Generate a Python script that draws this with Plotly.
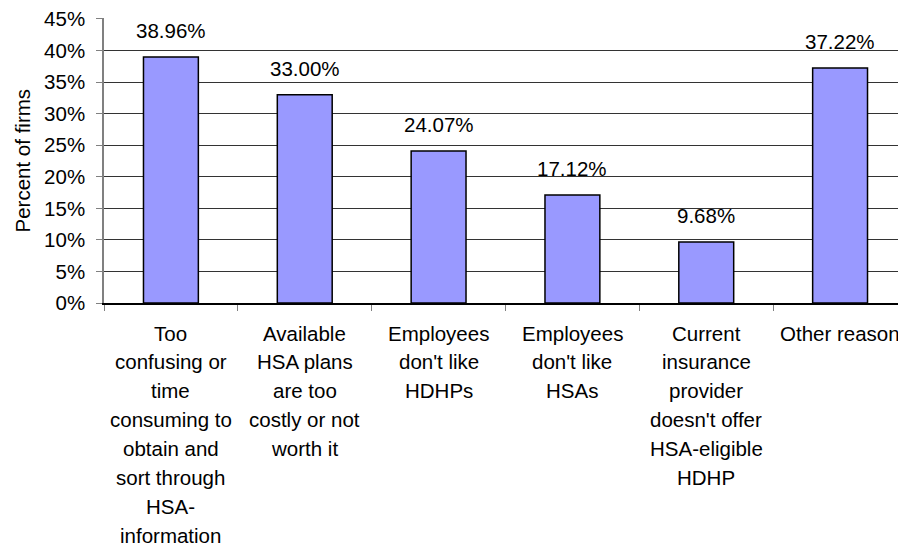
import plotly.graph_objects as go

categories = [
    "Too confusing or time consuming to obtain and sort through HSA-information",
    "Available HSA plans are too costly or not worth it",
    "Employees don't like HDHPs",
    "Employees don't like HSAs",
    "Current insurance provider doesn't offer HSA-eligible HDHP",
    "Other reason",
]
tick_label_lines = [
    ["Too", "confusing or", "time", "consuming to", "obtain and", "sort through", "HSA-", "information"],
    ["Available", "HSA plans", "are too", "costly or not", "worth it"],
    ["Employees", "don't like", "HDHPs"],
    ["Employees", "don't like", "HSAs"],
    ["Current", "insurance", "provider", "doesn't offer", "HSA-eligible", "HDHP"],
    ["Other reason"],
]
values = [0.3896, 0.3300, 0.2407, 0.1712, 0.0968, 0.3722]
value_labels = ["38.96%", "33.00%", "24.07%", "17.12%", "9.68%", "37.22%"]
y_tick_values = [0.0, 0.05, 0.10, 0.15, 0.20, 0.25, 0.30, 0.35, 0.40, 0.45]
y_tick_labels = ["0%", "5%", "10%", "15%", "20%", "25%", "30%", "35%", "40%", "45%"]

FONT = "Arial, Liberation Sans, sans-serif"
FS = 20.5

fig = go.Figure()
fig.add_trace(go.Bar(
    x=categories, y=values,
    marker=dict(color="#9999FF", line=dict(color="black", width=1.5)),
    width=0.41,
    hoverinfo="skip",
))

annotations = []
for cat, v, lab in zip(categories, values, value_labels):
    annotations.append(dict(
        x=cat, y=v, xref="x", yref="y", text=lab, showarrow=False,
        yanchor="bottom", yshift=13, font=dict(family=FONT, size=FS, color="black"),
    ))
for cat, lines in zip(categories, tick_label_lines):
    for i, line in enumerate(lines):
        annotations.append(dict(
            x=cat, y=0, xref="x", yref="paper", text=line, showarrow=False,
            yanchor="middle", yshift=-(30 + 28.9 * i),
            font=dict(family=FONT, size=FS, color="black"),
        ))
annotations.append(dict(
    x=0, y=0.5, xref="paper", yref="paper", text="Percent of firms",
    textangle=-90, showarrow=False, xanchor="center", yanchor="middle",
    xshift=-82, font=dict(family=FONT, size=FS, color="black"),
))

fig.update_layout(
    width=906, height=547,
    margin=dict(l=96, r=7, t=10, b=252, autoexpand=False),
    paper_bgcolor="white", plot_bgcolor="white",
    showlegend=False,
    font=dict(family=FONT, size=FS, color="black"),
    annotations=annotations,
    xaxis=dict(
        type="category", range=[-0.5, 5.5], automargin=False,
        showticklabels=False, tickson="boundaries",
        ticks="outside", ticklen=6, tickcolor="#808080", tickwidth=1,
        showline=True, linecolor="black", linewidth=1.5,
        showgrid=False, zeroline=False,
    ),
    yaxis=dict(
        range=[0, 0.4515], automargin=False,
        tickmode="array", tickvals=y_tick_values, ticktext=y_tick_labels,
        ticks="outside", ticklen=6, tickcolor="#808080",
        showline=True, linecolor="#808080", linewidth=1.5,
        showgrid=True, gridcolor="#333333", gridwidth=1,
        zeroline=False, ticklabelstandoff=7, ticklabeloverflow="allow",
        tickfont=dict(family=FONT, size=FS, color="black"),
    ),
)

fig.write_html("out.html")
